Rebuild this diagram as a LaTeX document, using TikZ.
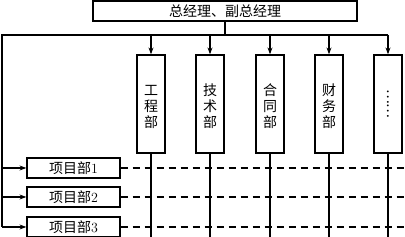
\documentclass[tikz,border=0pt]{standalone}
\usepackage{fontspec}
\usepackage{graphicx}
\newfontfamily\cjk{Noto Sans CJK SC}
\usetikzlibrary{arrows.meta}

\begin{document}
\begin{tikzpicture}[
  x=1pt,y=-1pt,line width=1.2pt,>={Stealth[length=7pt,width=5pt]},
  head/.style={draw,minimum width=264pt,minimum height=20pt,inner sep=0pt,
    font=\cjk\fontsize{14}{15}\selectfont},
  dept/.style={draw,minimum width=28pt,minimum height=98pt,inner sep=0pt,
    align=center,font=\cjk\fontsize{14}{16}\selectfont},
  proj/.style={draw,minimum width=93pt,minimum height=20pt,inner sep=0pt,
    font=\cjk\fontsize{14}{15}\selectfont},
  link/.style={->},
  grid/.style={dash pattern=on 7pt off 5pt}
]
\useasboundingbox (0,0) rectangle (405,237);
\node[head] (gm) at (225,11) {总经理、副总经理};
\node[dept] (eng) at (151,104) {\rule{0pt}{17pt}工\\程\\部};
\node[dept] (tech) at (210,104) {\rule{0pt}{17pt}技\\术\\部};
\node[dept] (contract) at (270,104) {\rule{0pt}{17pt}合\\同\\部};
\node[dept] (finance) at (329,104) {\rule{0pt}{17pt}财\\务\\部};
\node[dept] (more) at (388,104) {\rotatebox{-90}{……}};
\node[proj] (proj1) at (73.5,168) {项目部{\rmfamily 1}};
\node[proj] (proj2) at (73.5,197) {项目部{\rmfamily 2}};
\node[proj] (proj3) at (73.5,227) {项目部{\rmfamily 3}};
\coordinate (busL) at (2,35);
\coordinate (busR) at (more.north |- busL);
\coordinate (base) at (0,237);
\coordinate (rim) at (405,0);
% bus from the top
\draw (gm.south) -- (gm.south |- busL);
\draw (busL |- proj3) -- (busL) -- (busR);
\foreach \d in {eng,tech,contract,finance,more}
  \draw[link] (busL -| \d) -- (\d.north);
% functional lines down
\foreach \d in {eng,tech,contract,finance,more}
  \draw (\d.south) -- (\d.south |- base);
% project rows
\foreach \p in {proj1,proj2,proj3} {
  \draw[link] (busL |- \p) -- (\p.west);
  \draw[grid] (\p.east) -- (\p.east -| rim);
}
\end{tikzpicture}
\end{document}
